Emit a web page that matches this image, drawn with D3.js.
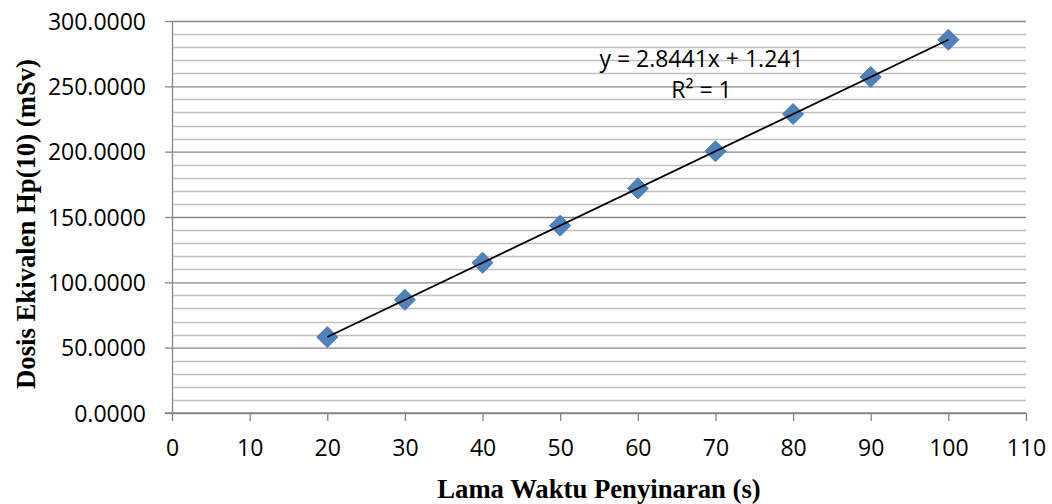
<!DOCTYPE html>
<html>
<head>
<meta charset="utf-8">
<script src="https://cdn.jsdelivr.net/npm/d3@7/dist/d3.min.js"></script>
<style>
  html, body { margin: 0; padding: 0; background: #fff; }
  svg { display: block; }
</style>
</head>
<body>
<svg id="chart" width="1052" height="504"></svg>
<script>
// Data
const waktu = [20, 30, 40, 50, 60, 70, 80, 90, 100];
const dosis = [58.1, 86.6, 115.0, 143.4, 171.9, 200.3, 228.8, 257.2, 285.7];
const xTickValues = [0, 10, 20, 30, 40, 50, 60, 70, 80, 90, 100, 110];
const yTickValues = [0, 50, 100, 150, 200, 250, 300];
const yMinorValues = [10, 20, 30, 40, 60, 70, 80, 90, 110, 120, 130, 140, 160, 170, 180, 190, 210, 220, 230, 240, 260, 270, 280, 290];
const trendSlope = 2.8441;
const trendIntercept = 1.241;
const trendRange = [20, 100];
const equationLines = ["y = 2.8441x + 1.241", "R² = 1"];
const xTitle = "Lama Waktu Penyinaran (s)";
const yTitle = "Dosis Ekivalen Hp(10) (mSv)";

const W = 1052, H = 504;
const margin = { top: 21, right: 26, bottom: 91, left: 172 };
const svg = d3.select("#chart");

const x = d3.scaleLinear().domain([0, 110]).range([margin.left, W - margin.right]);
const y = d3.scaleLinear().domain([0, 300]).range([H - margin.bottom, margin.top]);

const axisColor = "#868686";
const minorColor = "#c0c0c0";
const labelFont = "'Open Sans', 'Noto Sans', sans-serif";
const titleFont = "'Liberation Serif', 'Times New Roman', serif";

// minor gridlines
svg.append("g").selectAll("line").data(yMinorValues).join("line")
  .attr("x1", x(0)).attr("x2", x(110))
  .attr("y1", d => Math.round(y(d)) + 0.5).attr("y2", d => Math.round(y(d)) + 0.5)
  .attr("stroke", minorColor).attr("stroke-width", 1.3);

// major gridlines (with left tick extension) via axis
const yAxis = d3.axisLeft(y).tickValues(yTickValues)
  .tickSize(-(W - margin.right - margin.left))
  .tickFormat(d3.format(".4f"));
const yg = svg.append("g").attr("transform", `translate(${margin.left},0)`).call(yAxis);
yg.select(".domain").remove();
yg.selectAll(".tick line").attr("stroke", axisColor).attr("stroke-width", 1.3);
yg.selectAll(".tick").append("line")
  .attr("x1", -7).attr("x2", 0).attr("stroke", axisColor).attr("stroke-width", 1.3);
yg.selectAll(".tick text")
  .attr("x", -26).attr("dy", "0.36em")
  .attr("font-family", labelFont).attr("font-size", 23).attr("fill", "#000");

// y axis line
svg.append("line")
  .attr("x1", margin.left + 0.5).attr("x2", margin.left + 0.5)
  .attr("y1", y(300)).attr("y2", y(0))
  .attr("stroke", axisColor).attr("stroke-width", 1.3);

// x axis
const xAxis = d3.axisBottom(x).tickValues(xTickValues).tickSize(8).tickSizeOuter(0).tickFormat(d3.format("d"));
const xg = svg.append("g").attr("transform", `translate(0,${y(0)})`).call(xAxis);
xg.select(".domain").attr("stroke", axisColor).attr("stroke-width", 1.3)
  .attr("d", `M${x(0) - 7},0H${x(110)}`);
xg.selectAll(".tick line").attr("stroke", axisColor).attr("stroke-width", 1.3);
xg.selectAll(".tick text")
  .attr("y", 27).attr("dy", "0.71em")
  .attr("font-family", labelFont).attr("font-size", 23).attr("fill", "#000");

// markers
const diamond = "M0,-10.5L10.5,0L0,10.5L-10.5,0Z";
svg.append("g").selectAll("path").data(waktu).join("path")
  .attr("d", diamond)
  .attr("transform", (d, i) => `translate(${x(d)},${y(dosis[i])})`)
  .attr("fill", "#4F81BD").attr("stroke", "#4677B2").attr("stroke-width", 1);

// trendline
svg.append("line")
  .attr("x1", x(trendRange[0])).attr("y1", y(trendSlope * trendRange[0] + trendIntercept))
  .attr("x2", x(trendRange[1])).attr("y2", y(trendSlope * trendRange[1] + trendIntercept))
  .attr("stroke", "#000").attr("stroke-width", 1.8);

// equation
svg.append("g").selectAll("text").data(equationLines).join("text")
  .attr("x", 701.5).attr("y", (d, i) => 67 + i * 31)
  .attr("text-anchor", "middle")
  .attr("font-family", labelFont).attr("font-size", 23).attr("fill", "#000")
  .text(d => d);

// axis titles
svg.append("text")
  .attr("x", (margin.left + W - margin.right) / 2).attr("y", 498)
  .attr("text-anchor", "middle")
  .attr("font-family", titleFont).attr("font-weight", "bold").attr("font-size", 26.7)
  .text(xTitle);

svg.append("text")
  .attr("transform", `translate(35,224) rotate(-90)`)
  .attr("text-anchor", "middle")
  .attr("font-family", titleFont).attr("font-weight", "bold").attr("font-size", 26.7)
  .text(yTitle);
</script>
</body>
</html>
